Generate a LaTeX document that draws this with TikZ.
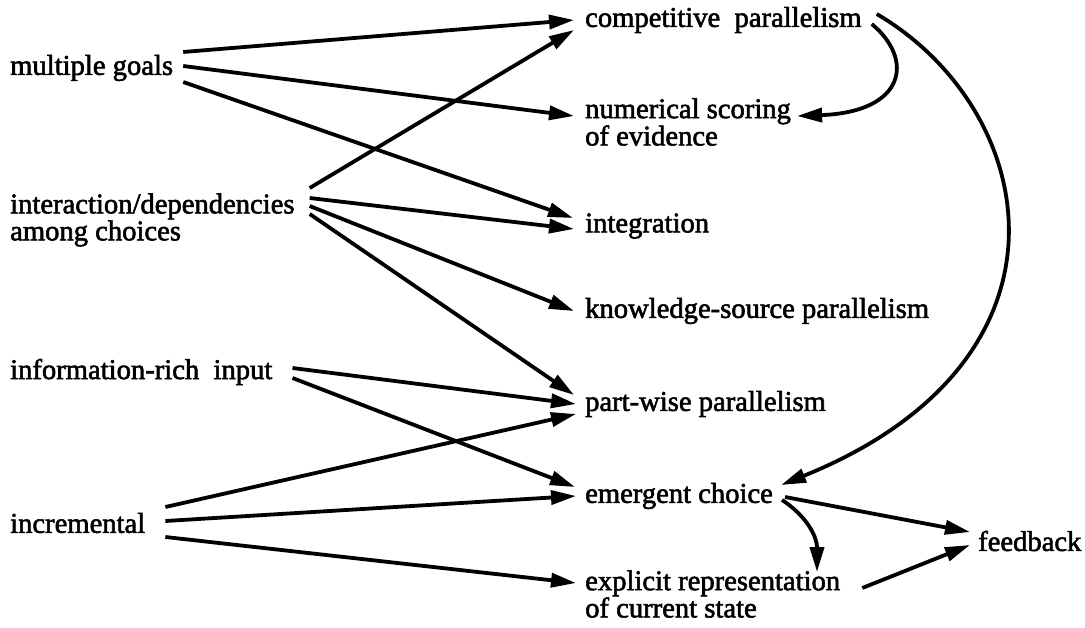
\documentclass[tikz,border=0pt]{standalone}
\usepackage{fontspec}
\setmainfont{Liberation Serif}
\newfontfamily\lblfont{Liberation Serif}[RawFeature={embolden=2}]
\usetikzlibrary{arrows.meta}
\begin{document}
\begin{tikzpicture}[x=1pt,y=-1pt,
  lbl/.style={anchor=west,inner sep=0pt,align=left,
    font=\lblfont\fontsize{28.6}{24.5}\selectfont},
  arr/.style={line width=3.8pt,-{Triangle[length=25pt,width=14pt]}}]
\useasboundingbox (0,0) rectangle (1085,627);
% causes (left column)
\node[lbl] (mg)  at (10,68)  {multiple goals};
\node[lbl] (idc) at (10,220) {interaction/dependencies\\among choices};
\node[lbl] (irc) at (10,372) {information-rich\ \ input};
\node[lbl] (inc) at (10,523) {incremental};
% consequences (middle column)
\node[lbl] (cp)  at (585,20)  {competitive\ \ parallelism};
\node[lbl] (ns)  at (585,122) {numerical scoring\\of evidence};
\node[lbl] (ig)  at (585,226) {integration};
\node[lbl] (ks)  at (585,311) {knowledge-source parallelism};
\node[lbl] (pw)  at (585,404) {part-wise parallelism};
\node[lbl] (ec)  at (585,496) {emergent choice};
\node[lbl] (er)  at (585,594) {explicit representation\\of current state};
\node[lbl] (fb)  at (978,541) {feedback};
% multiple goals
\draw[arr] ([shift={(10,-16)}]mg.east) -- ([shift={(-11,0)}]cp.west);
\draw[arr] ([shift={(10,-2)}]mg.east)  -- ([shift={(-11,-6)}]ns.west);
\draw[arr] ([shift={(10,14)}]mg.east)  -- ([shift={(-12,-8)}]ig.west);
% interaction/dependencies among choices
\draw[arr] ([shift={(15,-32)}]idc.east) -- ([shift={(-11,10)}]cp.west);
\draw[arr] ([shift={(15,-22)}]idc.east) -- ([shift={(-11,3)}]ig.west);
\draw[arr] ([shift={(15,-14)}]idc.east) -- ([shift={(-11,0)}]ks.west);
\draw[arr] ([shift={(15,-6)}]idc.east)  -- ([shift={(-11,-9)}]pw.west);
% information-rich input
\draw[arr] ([shift={(20,-4)}]irc.east) -- ([shift={(-9,0)}]pw.west);
\draw[arr] ([shift={(20,6)}]irc.east)  -- ([shift={(-10,-9)}]ec.west);
% incremental
\draw[arr] ([shift={(20,-16)}]inc.east) -- ([shift={(-9,10)}]pw.west);
\draw[arr] ([shift={(20,-2)}]inc.east)  -- ([shift={(-9,0)}]ec.west);
\draw[arr] ([shift={(20,14)}]inc.east)  -- ([shift={(-9,-11)}]er.west);
% curved links out of competitive parallelism
\draw[arr] ([shift={(10,4)}]cp.east) .. controls (915,60) and (905,112) .. ([shift={(6,-6)}]ns.east);
\draw[arr] ([shift={(15,-6)}]cp.east) .. controls (1040,110) and (1090,360) .. ([shift={(8,-11)}]ec.east);
% emergent choice and explicit state lead to feedback
\draw[arr] ([shift={(9,4)}]ec.east) .. controls (805,515) and (817,535) .. ([shift={(232,-22)}]er.west);
\draw[arr] ([shift={(12,1)}]ec.east) -- ([shift={(-8,-9)}]fb.west);
\draw[arr] ([shift={(22,-6)}]er.east) -- ([shift={(-8,4)}]fb.west);
\end{tikzpicture}
\end{document}
